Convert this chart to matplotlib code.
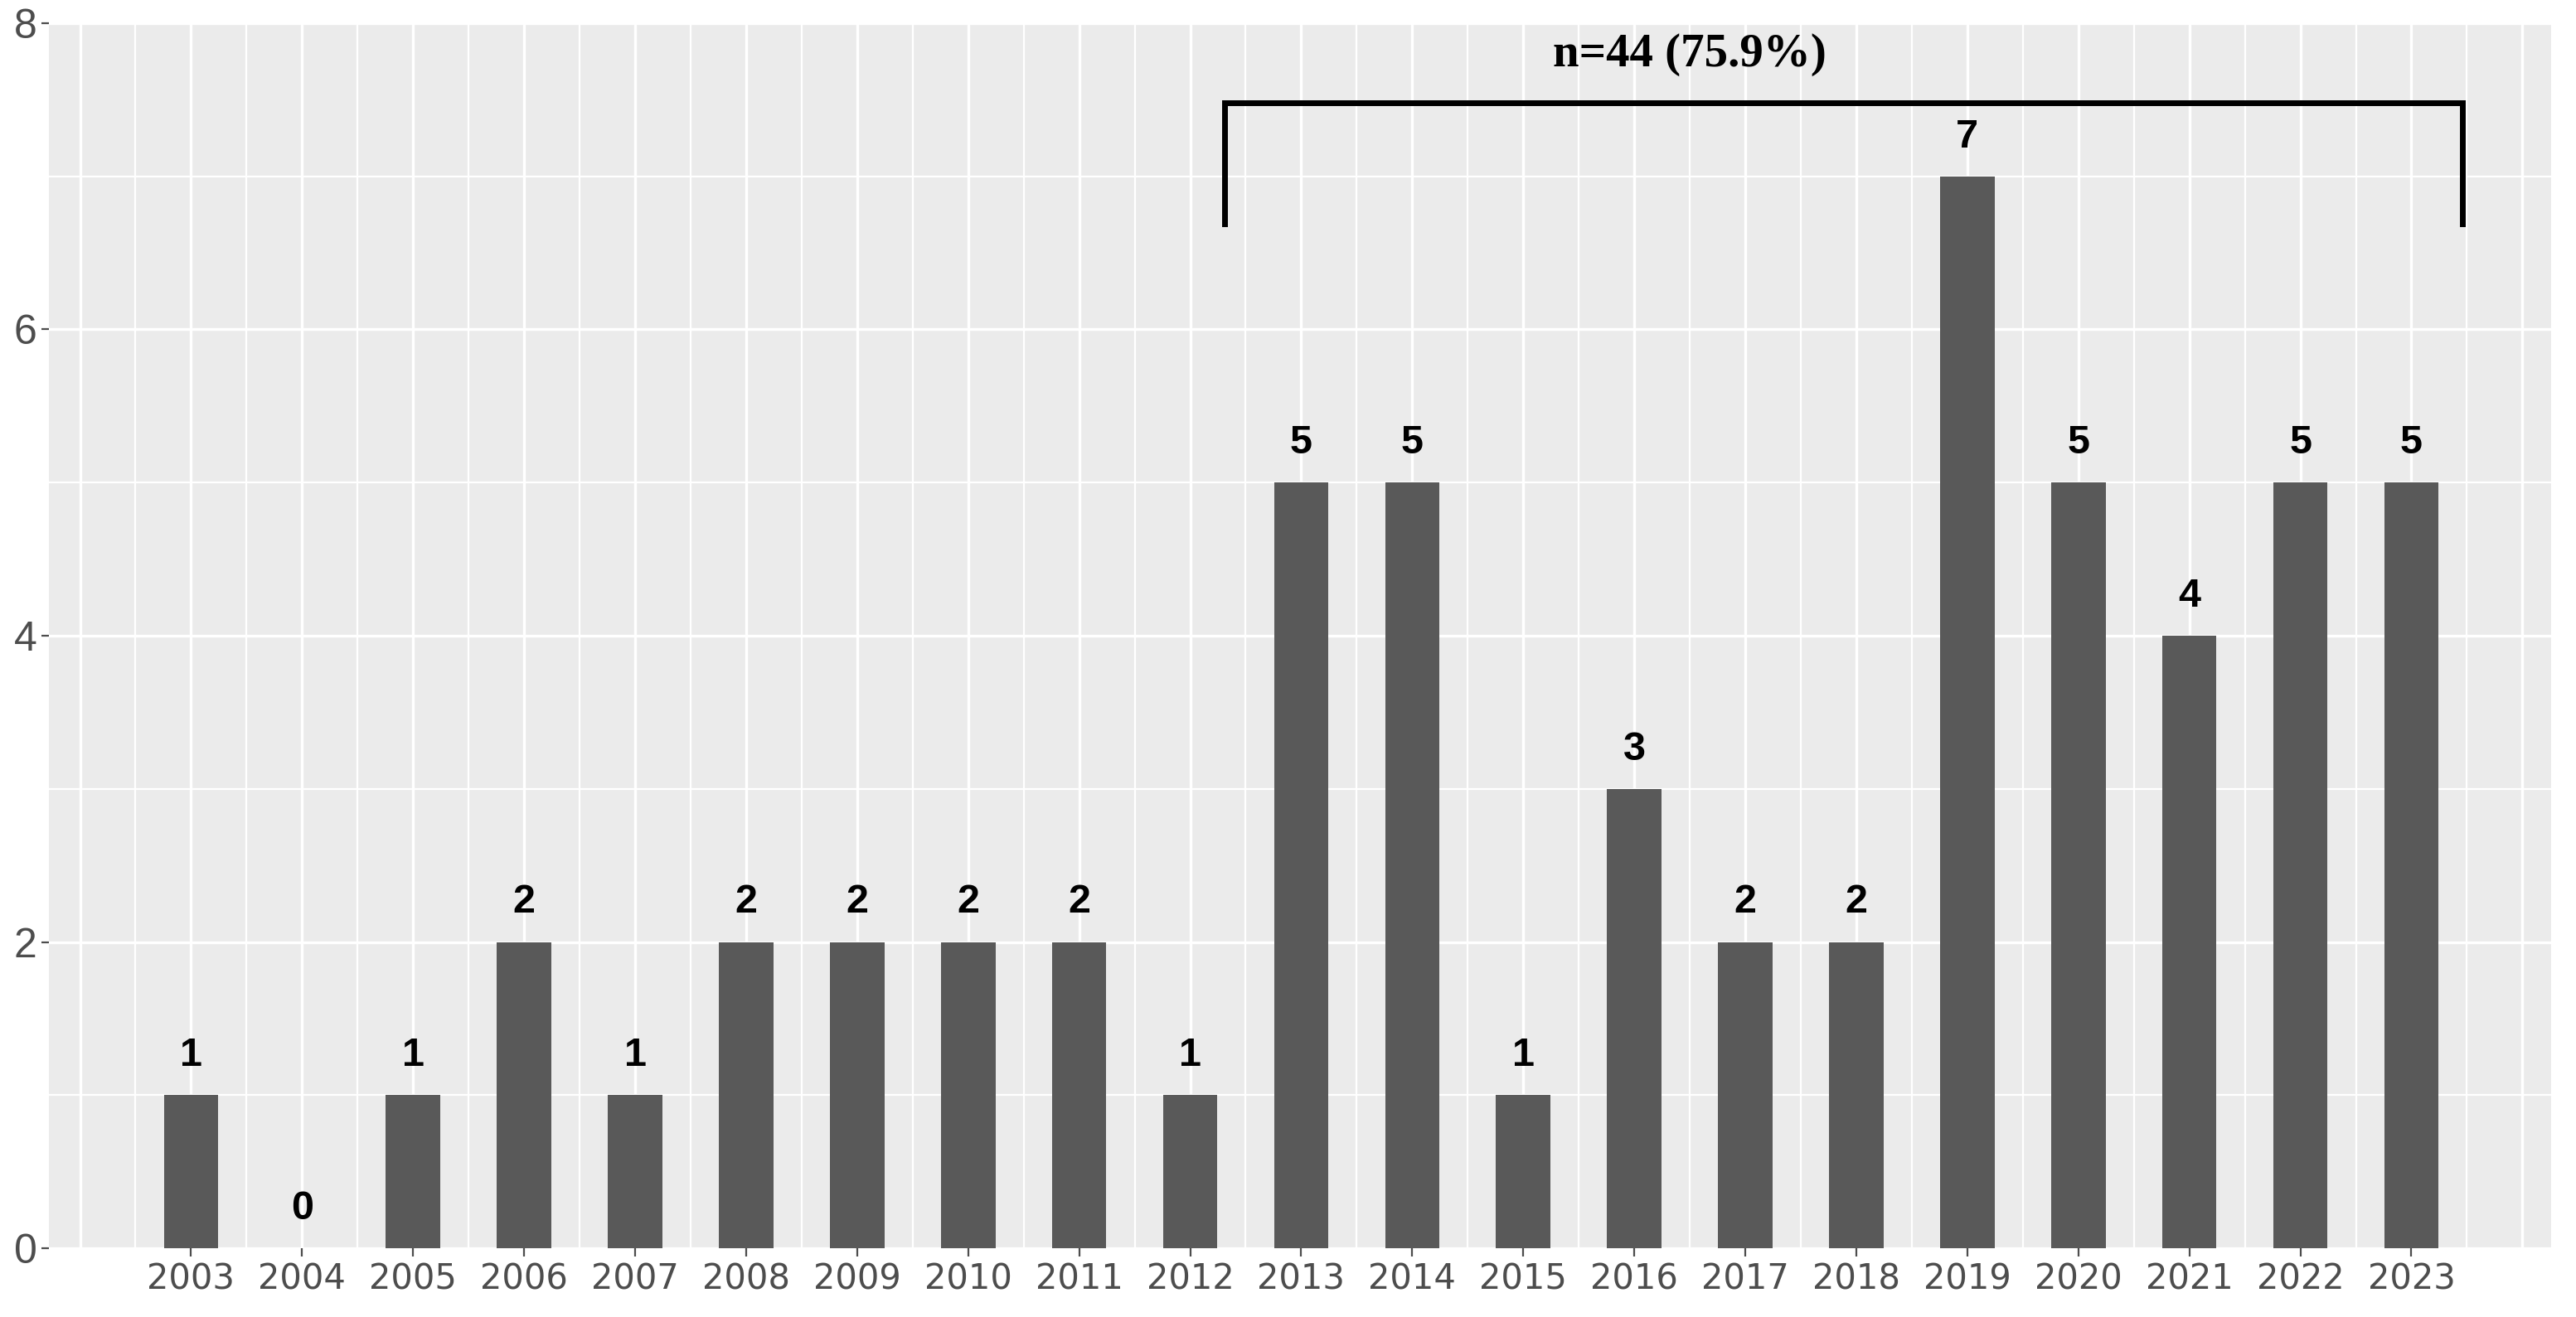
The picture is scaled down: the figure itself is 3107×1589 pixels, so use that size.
import matplotlib.pyplot as plt

# publications per year
years = list(range(2003, 2024))
counts = [1, 0, 1, 2, 1, 2, 2, 2, 2, 1, 5, 5, 1, 3, 2, 2, 7, 5, 4, 5, 5]
y_ticks = [0, 2, 4, 6, 8]
bracket_label = "n=44 (75.9%)"

BAR_COLOR = '#595959'
PANEL_BG = '#EBEBEB'
TICK_GREY = '#4D4D4D'

fig = plt.figure(figsize=(31.07, 15.89), dpi=100)
ax = fig.add_axes([0.0190, 0.0522, 0.9714, 0.9302])
ax.set_facecolor(PANEL_BG)

x_min, x_max = 2001.72, 2024.26
ax.set_xlim(x_min, x_max)
ax.set_ylim(0, 8)

# ggplot-like grid: majors at whole years / even counts, minors halfway
for x in range(2002, 2025):
    ax.axvline(x, color='white', lw=2.4, zorder=0.5)
    ax.axvline(x - 0.5, color='white', lw=1.6, zorder=0.5)
for y in y_ticks:
    ax.axhline(y, color='white', lw=2.4, zorder=0.5)
for y in [1, 3, 5, 7]:
    ax.axhline(y, color='white', lw=1.6, zorder=0.5)

ax.bar(years, counts, width=0.49, color=BAR_COLOR, zorder=2)

for yr, c in zip(years, counts):
    ax.text(yr, c + 0.19, str(c), ha='center', va='baseline',
            fontsize=35, fontweight='bold', family='Liberation Sans',
            color='black', zorder=3)

# bracket over the 2013-2023 group
bx0, bx1 = 2012.31, 2023.46
by_top, by_leg = 7.48, 6.69
ax.plot([bx0, bx0, bx1, bx1], [by_leg, by_top, by_top, by_leg],
        color='black', lw=5, solid_joinstyle='miter', zorder=4)
ax.text(2016.5, 7.72, bracket_label, ha='center', va='baseline',
        fontsize=41, fontweight='bold', family='Liberation Serif',
        color='black', zorder=4)

ax.set_xticks(years)
ax.set_xticklabels([str(y) for y in years], fontsize=30,
                   family='DejaVu Sans', color=TICK_GREY)
ax.set_yticks(y_ticks)
ax.set_yticklabels([str(y) for y in y_ticks], fontsize=36,
                   family='Liberation Sans', color=TICK_GREY)
ax.tick_params(axis='x', length=7, width=1.6, color=TICK_GREY, pad=5)
ax.tick_params(axis='y', length=6.5, width=1.6, color=TICK_GREY, pad=4)

for s in ax.spines.values():
    s.set_visible(False)

fig.savefig('out.png', dpi=100)
